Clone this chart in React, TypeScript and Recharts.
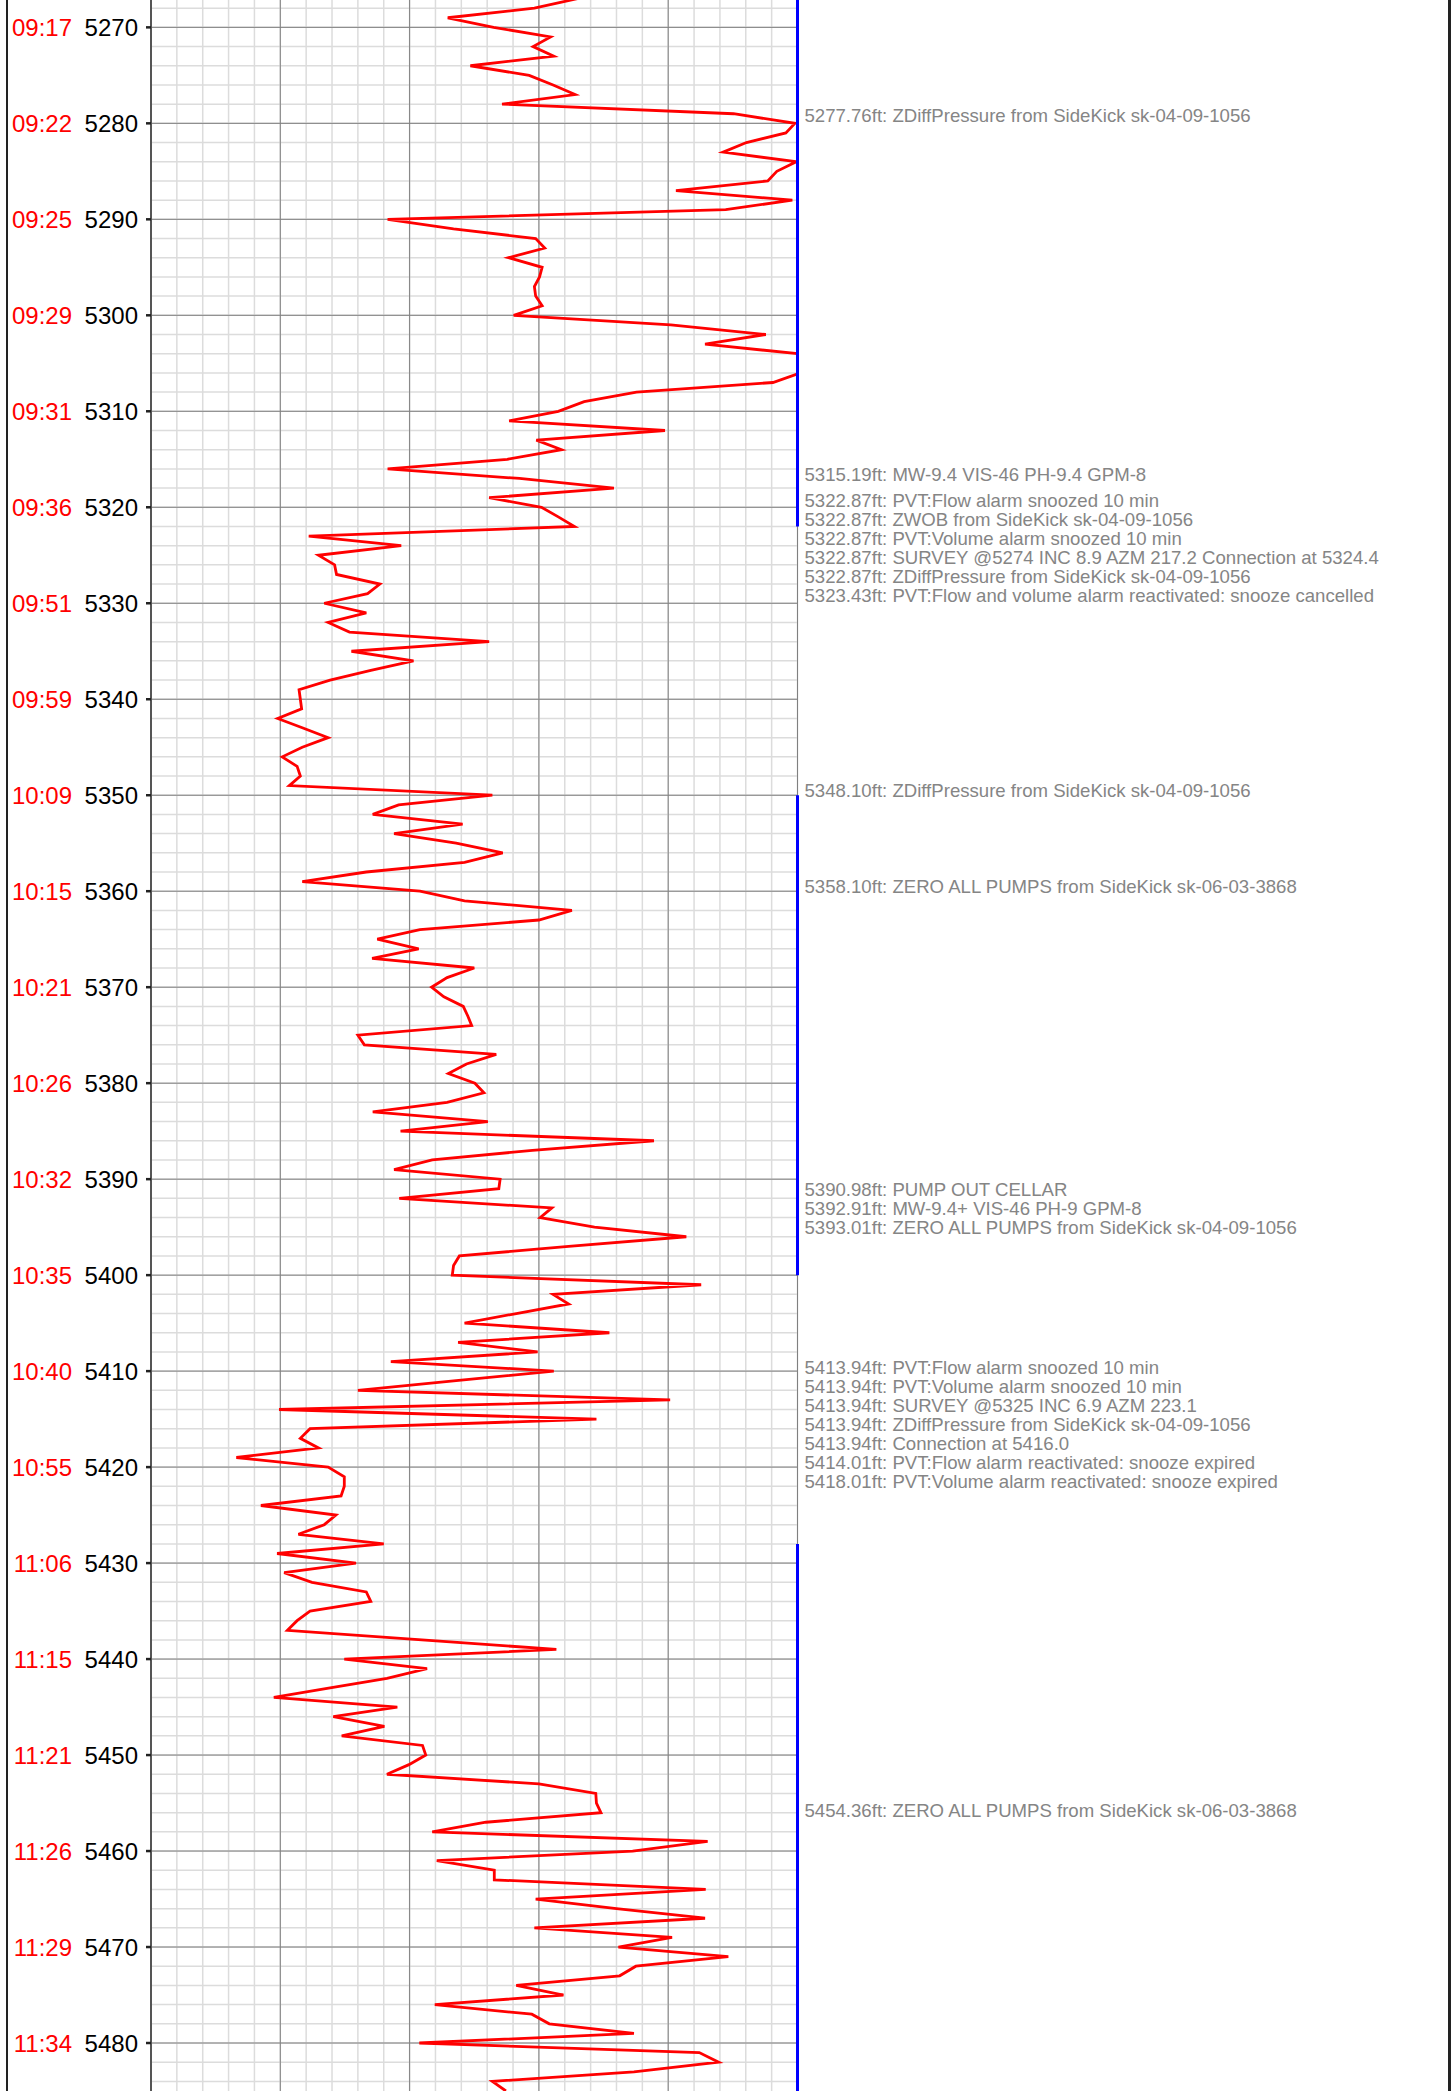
import React from "react";
import {
  LineChart,
  Line,
  XAxis,
  YAxis,
  CartesianGrid,
  ReferenceLine,
  ReferenceDot,
} from "recharts";

// depth (ft) of each sample, one per foot
const DEPTHS = [
  5267, 5268, 5269, 5270, 5271, 5272, 5273, 5274, 5275, 5276,
  5277, 5278, 5279, 5280, 5281, 5282, 5283, 5284, 5285, 5286,
  5287, 5288, 5289, 5290, 5291, 5292, 5293, 5294, 5295, 5296,
  5297, 5298, 5299, 5300, 5301, 5302, 5303, 5304, 5305, 5306,
  5307, 5308, 5309, 5310, 5311, 5312, 5313, 5314, 5315, 5316,
  5317, 5318, 5319, 5320, 5321, 5322, 5323, 5324, 5325, 5326,
  5327, 5328, 5329, 5330, 5331, 5332, 5333, 5334, 5335, 5336,
  5337, 5338, 5339, 5340, 5341, 5342, 5343, 5344, 5345, 5346,
  5347, 5348, 5349, 5350, 5351, 5352, 5353, 5354, 5355, 5356,
  5357, 5358, 5359, 5360, 5361, 5362, 5363, 5364, 5365, 5366,
  5367, 5368, 5369, 5370, 5371, 5372, 5373, 5374, 5375, 5376,
  5377, 5378, 5379, 5380, 5381, 5382, 5383, 5384, 5385, 5386,
  5387, 5388, 5389, 5390, 5391, 5392, 5393, 5394, 5395, 5396,
  5397, 5398, 5399, 5400, 5401, 5402, 5403, 5404, 5405, 5406,
  5407, 5408, 5409, 5410, 5411, 5412, 5413, 5414, 5415, 5416,
  5417, 5418, 5419, 5420, 5421, 5422, 5423, 5424, 5425, 5426,
  5427, 5428, 5429, 5430, 5431, 5432, 5433, 5434, 5435, 5436,
  5437, 5438, 5439, 5440, 5441, 5442, 5443, 5444, 5445, 5446,
  5447, 5448, 5449, 5450, 5451, 5452, 5453, 5454, 5455, 5456,
  5457, 5458, 5459, 5460, 5461, 5462, 5463, 5464, 5465, 5466,
  5467, 5468, 5469, 5470, 5471, 5472, 5473, 5474, 5475, 5476,
  5477, 5478, 5479, 5480, 5481, 5482, 5483, 5484, 5485,
];

// trace value at each depth (0-100 track scale)
const VALUES = [
  66, 59.3, 45.9, 53, 61.8, 59.1, 62.3, 49.4, 58.5, 62.2,
  65.6, 54.3, 90.1, 99.6, 98.2, 92.1, 88.5, 99.8, 96.8, 95.4,
  81.2, 99.2, 88.9, 36.6, 46.8, 59.5, 60.9, 55.3, 60.5, 60.1,
  59.3, 59.5, 60.5, 56.1, 80.4, 95.1, 85.7, 100, 104, 100.5,
  96.2, 75.1, 67, 63, 55.4, 79.5, 59.6, 63.5, 55.1, 36.6,
  57, 71.6, 52.3, 60.4, 63, 65.5, 24.4, 38.7, 25.9, 28.4,
  28.7, 35.4, 33.5, 26.8, 33.3, 27.4, 30.7, 52.3, 31, 40.6,
  34, 27.7, 22.9, 23.1, 23.3, 19.6, 23.5, 27.4, 23.4, 20.3,
  22.6, 23.1, 21.4, 52.8, 38.3, 34.3, 48.2, 37.6, 47.2, 54.4,
  48.5, 33.3, 23.4, 41.6, 48.5, 65.1, 60, 41.6, 35, 41.4,
  34.2, 50, 45.8, 43.4, 45.3, 48.3, 49, 49.6, 32, 33,
  53.4, 48.8, 46, 50.1, 51.5, 45.8, 34.3, 52.1, 38.6, 77.8,
  59, 43.5, 37.6, 54, 53.8, 38.4, 62, 60.2, 68.6, 82.8,
  64.6, 47.7, 46.8, 46.6, 85.1, 62.2, 64.6, 56.5, 48.5, 70.9,
  47.5, 59.8, 37.1, 62.3, 47.2, 32, 80.3, 19.8, 68.9, 24.6,
  23.1, 25.9, 13.2, 27.4, 29.9, 29.9, 29.4, 17, 28.6, 26.8,
  22.8, 36, 19.5, 31.7, 20.6, 24.9, 33.3, 34, 24.6, 22.6,
  21.1, 41.9, 62.7, 29.9, 42.7, 36.5, 27.7, 19, 38.1, 28.2,
  36.1, 29.5, 42, 42.5, 39.9, 36.5, 60, 68.8, 68.9, 69.6,
  51.8, 43.5, 86.1, 74.5, 44.2, 53.1, 53.1, 85.8, 59.5, 72,
  85.7, 59.3, 80.6, 72.3, 89.3, 75, 72.5, 56.5, 63.8, 43.9,
  58.9, 61.6, 74.7, 41.5, 84.8, 87.8, 74.7, 52.8, 54.9,
];

const DEPTH_TICKS = [
  5270, 5280, 5290, 5300, 5310, 5320, 5330, 5340, 5350, 5360, 5370,
  5380, 5390, 5400, 5410, 5420, 5430, 5440, 5450, 5460, 5470, 5480,
];

const TIME_LABELS = [
  "09:17", "09:22", "09:25", "09:29", "09:31", "09:36", "09:51", "09:59",
  "10:09", "10:15", "10:21", "10:26", "10:32", "10:35", "10:40", "10:55",
  "11:06", "11:15", "11:21", "11:26", "11:29", "11:34",
];

const EVENT_DEPTHS = [
  5277.76, 5315.19, 5322.87, 5322.87, 5322.87, 5322.87, 5322.87, 5323.43,
  5348.1, 5358.1, 5390.98, 5392.91, 5393.01, 5413.94, 5413.94, 5413.94,
  5413.94, 5413.94, 5414.01, 5418.01, 5454.36,
];

const EVENT_TEXT = [
  "5277.76ft: ZDiffPressure from SideKick sk-04-09-1056",
  "5315.19ft: MW-9.4 VIS-46 PH-9.4 GPM-8",
  "5322.87ft: PVT:Flow alarm snoozed 10 min",
  "5322.87ft: ZWOB from SideKick sk-04-09-1056",
  "5322.87ft: PVT:Volume alarm snoozed 10 min",
  "5322.87ft: SURVEY @5274 INC 8.9 AZM 217.2 Connection at 5324.4",
  "5322.87ft: ZDiffPressure from SideKick sk-04-09-1056",
  "5323.43ft: PVT:Flow and volume alarm reactivated: snooze cancelled",
  "5348.10ft: ZDiffPressure from SideKick sk-04-09-1056",
  "5358.10ft: ZERO ALL PUMPS from SideKick sk-06-03-3868",
  "5390.98ft: PUMP OUT CELLAR",
  "5392.91ft: MW-9.4+ VIS-46 PH-9 GPM-8",
  "5393.01ft: ZERO ALL PUMPS from SideKick sk-04-09-1056",
  "5413.94ft: PVT:Flow alarm snoozed 10 min",
  "5413.94ft: PVT:Volume alarm snoozed 10 min",
  "5413.94ft: SURVEY @5325 INC 6.9 AZM 223.1",
  "5413.94ft: ZDiffPressure from SideKick sk-04-09-1056",
  "5413.94ft: Connection at 5416.0",
  "5414.01ft: PVT:Flow alarm reactivated: snooze expired",
  "5418.01ft: PVT:Volume alarm reactivated: snooze expired",
  "5454.36ft: ZERO ALL PUMPS from SideKick sk-06-03-3868",
];

// depth ranges where the right track edge is flagged blue
const FLAG_START = [5260, 5350, 5428];
const FLAG_END = [5322, 5400, 5490];

const W = 1453;
const H = 2091;
const TOP = 5267.15;
const BOTTOM = 5485;
const PLOT_RIGHT = 797.5;
const LINE_H = 19;
const FONT = "'Liberation Sans', Arial, Helvetica, sans-serif";

const rows = DEPTHS.map((d, i) => ({ depth: d, value: VALUES[i] }));

const minorY: number[] = [];
for (let d = 5268; d <= 5484; d += 2) minorY.push(d);
const minorX: number[] = [];
for (let v = 0; v <= 100; v += 4) minorX.push(v);
const majorX = [0, 20, 40, 60, 80, 100];

// group events whose text blocks would overlap
const pxPerFt = H / (BOTTOM - TOP);
function buildClusters() {
  const clusters = EVENT_DEPTHS.map((_, i) => [i]);
  const anchor = (c: number[]) => {
    const mean = c.reduce((s, i) => s + EVENT_DEPTHS[i], 0) / c.length;
    return (EVENT_DEPTHS[c[0]] + mean) / 2;
  };
  const half = (c: number[]) => (c.length * LINE_H) / 2 / pxPerFt;
  let merged = true;
  while (merged) {
    merged = false;
    for (let i = 0; i < clusters.length - 1; i++) {
      const a = clusters[i];
      const b = clusters[i + 1];
      if (anchor(a) + half(a) > anchor(b) - half(b)) {
        clusters.splice(i, 2, [...a, ...b]);
        merged = true;
        break;
      }
    }
  }
  return clusters.map((c) => ({ depth: anchor(c), lines: c.map((i) => EVENT_TEXT[i]) }));
}
const clusters = buildClusters();

const DepthTick = (props: any) => {
  const { x, y, payload } = props;
  const idx = DEPTH_TICKS.indexOf(payload.value);
  return (
    <g>
      <text x={x - 66} y={y} dy="0.36em" textAnchor="end" fill="#ff0000" fontSize={24} fontFamily={FONT}>
        {TIME_LABELS[idx]}
      </text>
      <text x={x} y={y} dy="0.36em" textAnchor="end" fill="#000" fontSize={24} fontFamily={FONT}>
        {payload.value}
      </text>
    </g>
  );
};

const EventBlock = (props: any) => {
  const { viewBox, lines } = props;
  const cx = viewBox.x;
  const cy = viewBox.y;
  const n = lines.length;
  return (
    <g>
      {lines.map((t: string, k: number) => (
        <text
          key={k}
          x={cx + 7}
          y={cy + 13 + (k - (n - 1) / 2) * LINE_H}
          dy="0.36em"
          fill="#858585"
          fontSize={18.6}
          fontFamily={FONT}
        >
          {t}
        </text>
      ))}
    </g>
  );
};

export default function App() {
  return (
    <div style={{ position: "absolute", left: 0, top: 0, width: W, height: H, background: "#fff", overflow: "hidden" }}>
      <div
        style={{
          position: "absolute",
          left: 6,
          top: -10,
          width: 1440,
          height: H + 20,
          borderLeft: "2px solid #222",
          borderRight: "3px solid #222",
        }}
      />
      <div style={{ position: "absolute", left: 0, top: 0 }}>
        <LineChart
          width={W}
          height={H}
          layout="vertical"
          data={rows}
          margin={{ top: 0, right: W - PLOT_RIGHT, bottom: 0, left: 0 }}
        >
          <CartesianGrid stroke="#dcdcdc" strokeWidth={1.5} horizontalValues={minorY} verticalValues={minorX} />
          <CartesianGrid stroke="#808080" strokeWidth={1} horizontalValues={DEPTH_TICKS} verticalValues={majorX} />
          <XAxis type="number" dataKey="value" domain={[0, 100]} allowDataOverflow hide />
          <YAxis
            type="number"
            dataKey="depth"
            domain={[TOP, BOTTOM]}
            allowDataOverflow
            ticks={DEPTH_TICKS}
            interval={0}
            width={151}
            axisLine={{ stroke: "#555", strokeWidth: 2 }}
            tickLine={{ stroke: "#222", strokeWidth: 2.5 }}
            tickSize={5}
            tickMargin={8}
            tick={<DepthTick />}
          />
          <Line
            dataKey="value"
            type="linear"
            stroke="#ff0000"
            strokeWidth={2.8}
            dot={false}
            isAnimationActive={false}
          />
          {FLAG_START.map((s, i) => (
            <ReferenceLine
              key={"f" + i}
              segment={[
                { x: 100, y: Math.max(s, TOP) },
                { x: 100, y: Math.min(FLAG_END[i], BOTTOM) },
              ]}
              stroke="#0000ff"
              strokeWidth={3}
              ifOverflow="visible"
            />
          ))}
          {clusters.map((c, i) => (
            <ReferenceDot
              key={"e" + i}
              x={100}
              y={c.depth}
              r={0}
              fill="none"
              stroke="none"
              ifOverflow="visible"
              label={(p: any) => <EventBlock viewBox={p.viewBox} lines={c.lines} />}
            />
          ))}
        </LineChart>
      </div>
    </div>
  );
}
